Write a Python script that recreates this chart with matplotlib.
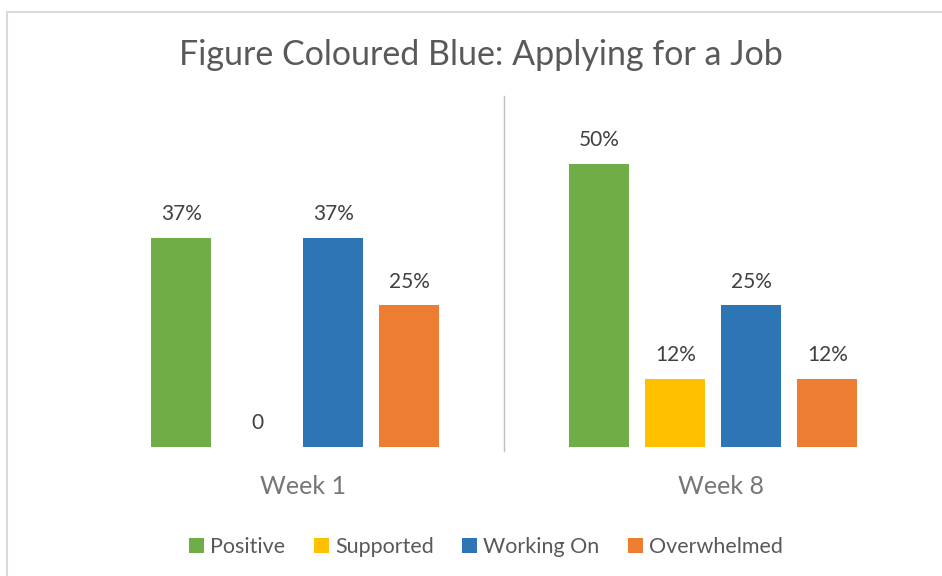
import numpy as np
import matplotlib.pyplot as plt
import matplotlib.transforms as mtransforms
from matplotlib.patches import Rectangle

weeks = ["Week 1", "Week 8"]
series = ["Positive", "Supported", "Working On", "Overwhelmed"]
positive = [37, 50]
supported = [0, 12]
working_on = [37, 25]
overwhelmed = [25, 12]
colors = ["#70AD47", "#FFC000", "#2E75B6", "#ED7D31"]

plt.rcParams['font.family'] = ['Lato', 'DejaVu Sans']

fig = plt.figure(figsize=(9.42, 5.76), dpi=100)
# light chart border
fig.patches.append(Rectangle((7 / 942, -0.1), 1.1, (576 - 12) / 576 + 0.1,
                             transform=fig.transFigure, fill=False,
                             edgecolor="#D9D9D9", linewidth=1.5))

ax = fig.add_axes([86 / 942, 129 / 576, (922.5 - 86) / 942, (447 - 96) / 576])

x = np.arange(len(weeks))
width = 0.1434
step = 0.1816
for i, (name, vals) in enumerate(zip(series, [positive, supported, working_on, overwhelmed])):
    pos = x + (i - 1.5) * step
    bars = ax.bar(pos, vals, width, color=colors[i], label=name)
    for b, v in zip(bars, vals):
        txt = "0" if v == 0 else str(v) + "%"
        ax.annotate(txt, (b.get_x() + b.get_width() / 2, v), xytext=(0, 17),
                    textcoords="offset points", ha="center", va="center",
                    fontsize=15, color="#404040")

ax.set_xlim(-0.5, 1.5)
ax.set_ylim(0, 62)
ax.axvline(0.5, ymin=-0.01, ymax=1, color="#BFBFBF", linewidth=1, clip_on=False)

ax.set_xticks(x)
ax.set_xticklabels(weeks, fontsize=18, color="#767676")
ax.tick_params(axis="x", length=0, pad=20)
shift = mtransforms.ScaledTranslation(8 / 100, 0, fig.dpi_scale_trans)
for lbl in ax.get_xticklabels():
    lbl.set_transform(lbl.get_transform() + shift)
ax.set_yticks([])
for s in ax.spines.values():
    s.set_visible(False)

fig.suptitle("Figure Coloured Blue: Applying for a Job", x=481 / 942, y=1 - 55 / 576,
             va="center", fontsize=24.5, color="#595959")

fig.legend(loc="center", bbox_to_anchor=(486 / 942, 1 - 547 / 576), ncol=4,
           frameon=False, fontsize=15.5, handlelength=0.7, handleheight=0.7,
           handletextpad=0.3, columnspacing=1.3, labelcolor="#595959")

fig.savefig("out.png", dpi=100)
